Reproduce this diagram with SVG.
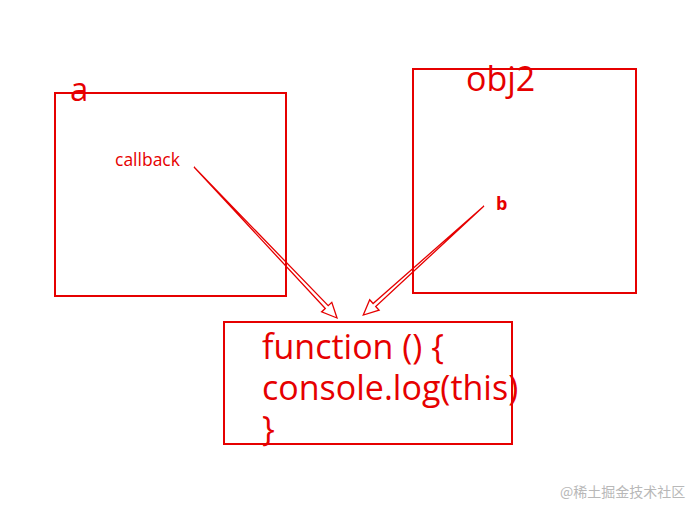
<svg xmlns="http://www.w3.org/2000/svg" width="694" height="507" viewBox="0 0 694 507">
<style>
.box{fill:none;stroke:#e60000;stroke-width:2}
.t{fill:#e60000;font-family:"Open Sans","Noto Sans",sans-serif}
.arr{fill:none;stroke:#e60000;stroke-width:1.3;stroke-linejoin:miter}
</style>
<rect width="694" height="507" fill="#ffffff"/>
<g id="node-a">
<rect class="box" x="55" y="93" width="231" height="203"/>
<text class="t" x="70" y="101" font-size="33">a</text>
<text class="t" x="115" y="166" font-size="17.5">callback</text>
</g>
<g id="node-obj2">
<rect class="box" x="413" y="69" width="223" height="224"/>
<text class="t" x="466" y="91" font-size="34">obj2</text>
<text class="t" x="496" y="210" font-size="18" font-weight="bold">b</text>
</g>
<g id="node-function">
<rect class="box" x="224" y="322" width="288" height="122"/>
<text class="t" x="262" y="359" font-size="34">function () {</text>
<text class="t" x="262" y="400" font-size="34">console.log(this)</text>
<text class="t" x="262" y="441" font-size="34">}</text>
</g>
<g id="connectors">
<path class="arr" d="M194,167 L328.2,305.7 L331.8,302.3 L337,318 L321.6,311.9 L325.3,308.5 Z"/>
<path class="arr" d="M484,206 L375.7,306.5 L379.1,310.2 L363.3,315 L369.7,299.8 L373.1,303.5 Z"/>
</g>
<text x="560" y="497" font-size="14" fill="#b8b8b8" font-family="'Noto Sans CJK SC',sans-serif">@稀土掘金技术社区</text>
</svg>
